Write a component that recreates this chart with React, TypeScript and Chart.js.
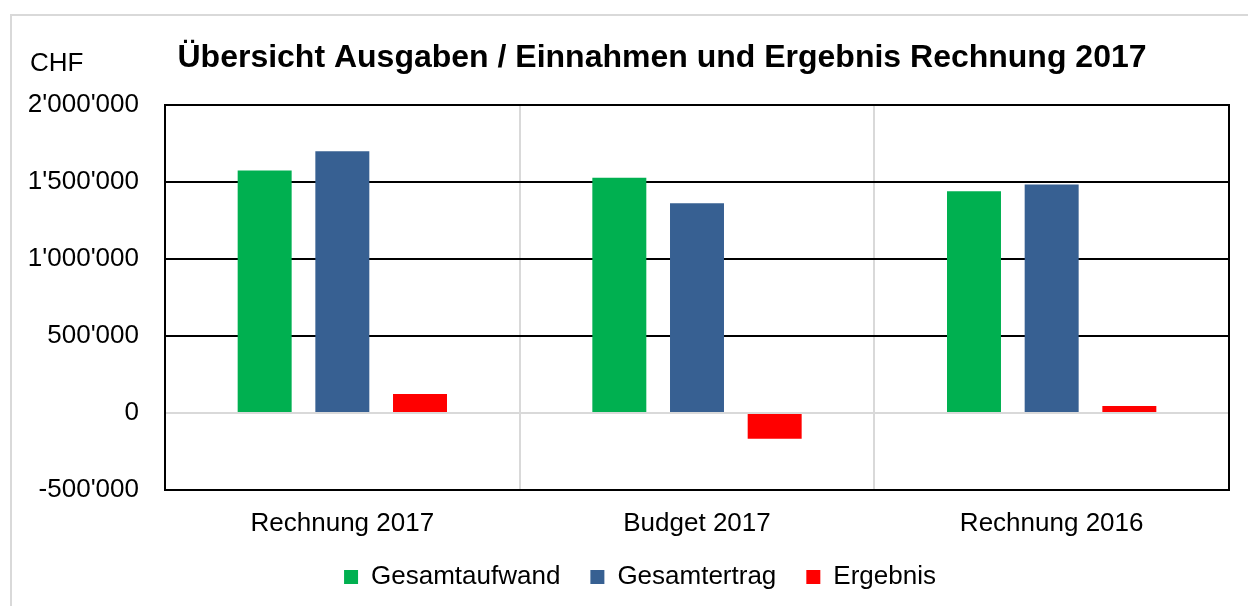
import React, { useEffect, useRef } from "react";
import { Chart, registerables } from "chart.js";

Chart.register(...registerables);

const chartTitle = "Übersicht Ausgaben / Einnahmen und Ergebnis Rechnung 2017";
const unitLabel = "CHF";
const categories = ["Rechnung 2017", "Budget 2017", "Rechnung 2016"];
const seriesNames = ["Gesamtaufwand", "Gesamtertrag", "Ergebnis"];
const gesamtaufwand = [1574000, 1528000, 1440000];
const gesamtertrag = [1699000, 1362000, 1483000];
const ergebnis = [124000, -167000, 46000];
const yTicks = [-500000, 0, 500000, 1000000, 1500000, 2000000];
const seriesColors = ["#00B050", "#376092", "#FF0000"];

const FONT = '"Liberation Sans", Arial, sans-serif';

function fmt(v: number): string {
  const s = Math.abs(v).toString().replace(/\B(?=(\d{3})+(?!\d))/g, "'");
  return (v < 0 ? "-" : "") + s;
}

const textPlugin = {
  id: "texts",
  afterLayout(chart: any) {
    const lg = chart.legend;
    if (lg) {
      lg.left = 51;
      lg.top -= 6;
      lg.bottom -= 6;
    }
  },
  afterDraw(chart: any) {
    const ctx = chart.ctx;
    ctx.save();
    ctx.fillStyle = "#000";
    ctx.textBaseline = "alphabetic";
    ctx.font = `bold 32px ${FONT}`;
    ctx.textAlign = "center";
    ctx.fillText(chartTitle, 662, 67);
    ctx.font = `26px ${FONT}`;
    ctx.textAlign = "left";
    ctx.fillText(unitLabel, 30, 71);
    ctx.restore();
  },
};

const framePlugin = {
  id: "frame",
  afterDatasetsDraw(chart: any) {
    const { ctx, chartArea } = chart;
    ctx.save();
    ctx.strokeStyle = "#000";
    ctx.lineWidth = 2;
    ctx.strokeRect(chartArea.left, chartArea.top, chartArea.right - chartArea.left, chartArea.bottom - chartArea.top);
    ctx.restore();
  },
};

export default function App() {
  const ref = useRef<HTMLCanvasElement | null>(null);

  useEffect(() => {
    document.documentElement.style.overflow = "hidden";
    document.body.style.overflow = "hidden";
    const canvas = ref.current;
    if (!canvas) return;
    const chart = new Chart(canvas, {
      type: "bar",
      data: {
        labels: categories,
        datasets: [
          { label: seriesNames[0], data: gesamtaufwand, backgroundColor: seriesColors[0] },
          { label: seriesNames[1], data: gesamtertrag, backgroundColor: seriesColors[1] },
          { label: seriesNames[2], data: ergebnis, backgroundColor: seriesColors[2] },
        ],
      },
      options: {
        animation: false,
        responsive: false,
        devicePixelRatio: 1,
        color: "#000",
        datasets: {
          bar: {
            categoryPercentage: 0.657,
            barPercentage: 0.695,
          },
        },
        layout: { padding: { left: 0, right: 19, top: 105, bottom: 0 } },
        plugins: {
          title: { display: false },
          tooltip: { enabled: false },
          legend: {
            display: true,
            position: "bottom",
            labels: {
              color: "#000",
              font: { family: FONT, size: 26 },
              boxWidth: 14,
              boxHeight: 14,
              padding: 30,
            },
          },
        },
        scales: {
          x: {
            afterFit(scale: any) {
              scale.height = 50;
            },
            grid: {
              display: true,
              offset: true,
              color: "#d9d9d9",
              lineWidth: 2,
              drawTicks: false,
            },
            border: { display: true, color: "#000", width: 2 },
            ticks: {
              color: "#000",
              font: { family: FONT, size: 26 },
              padding: 18,
              maxRotation: 0,
            },
          },
          y: {
            min: -500000,
            max: 2000000,
            afterFit(scale: any) {
              scale.width = 165;
            },
            afterBuildTicks(scale: any) {
              scale.ticks = yTicks.map((v) => ({ value: v }));
            },
            grid: {
              color: (c: any) => (c.tick && c.tick.value === 0 ? "#d9d9d9" : "#000"),
              lineWidth: 2,
              drawTicks: false,
            },
            border: { display: true, color: "#000", width: 2 },
            ticks: {
              color: "#000",
              font: { family: FONT, size: 26 },
              padding: 26,
              callback: (v: any) => fmt(Number(v)),
            },
          },
        },
      },
      plugins: [textPlugin, framePlugin],
    });
    return () => chart.destroy();
  }, []);

  return (
    <div style={{ position: "fixed", left: 0, top: 0, width: 1248, height: 606, overflow: "hidden", background: "#fff" }}>
      <div
        style={{
          position: "absolute",
          left: 10,
          top: 14,
          width: 1260,
          height: 620,
          border: "2px solid #d9d9d9",
          boxSizing: "border-box",
        }}
      />
      <canvas ref={ref} width={1248} height={606} style={{ position: "absolute", left: 0, top: 0, width: 1248, height: 606 }} />
    </div>
  );
}
